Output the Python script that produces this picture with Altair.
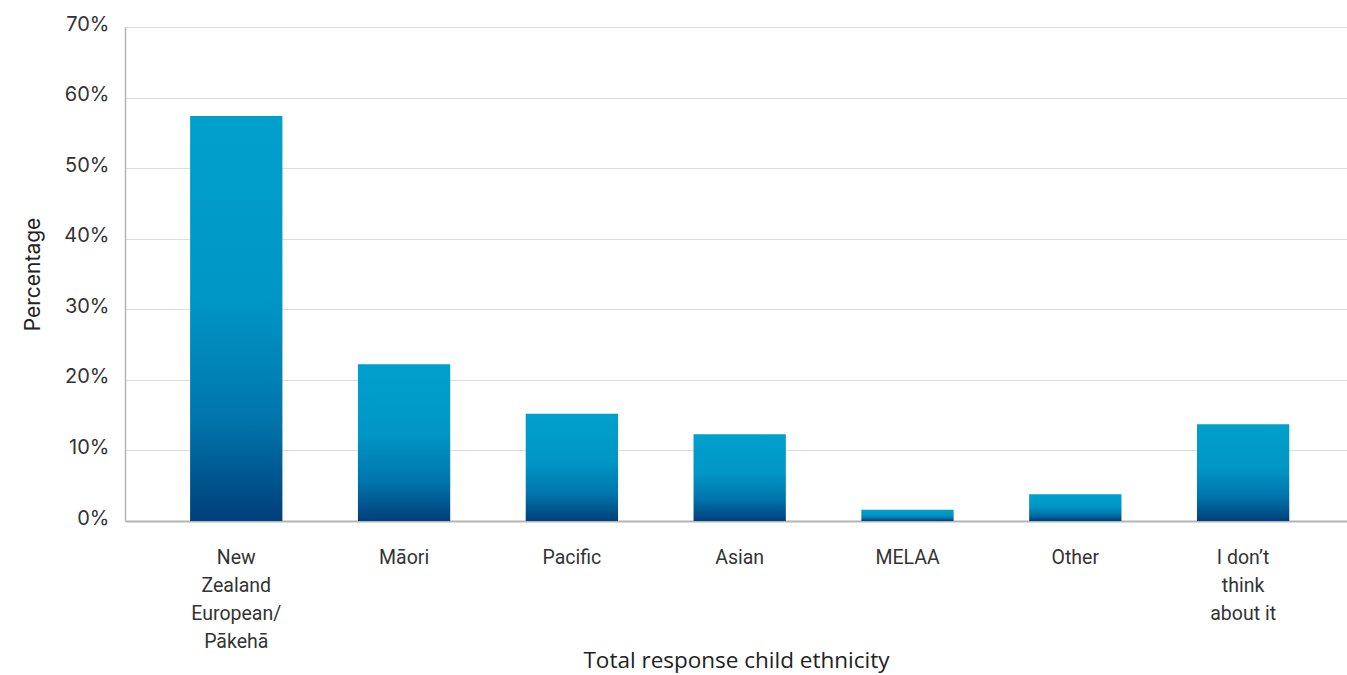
import altair as alt
import pandas as pd

categories = ["New Zealand European/Pākehā", "Māori", "Pacific", "Asian", "MELAA", "Other", "I don’t think about it"]
label_lines = [["New", "Zealand", "European/", "Pākehā"], ["Māori"], ["Pacific"], ["Asian"], ["MELAA"], ["Other"], ["I don’t", "think", "about it"]]
values = [57.4, 22.2, 15.2, 12.3, 1.6, 3.8, 13.7]

df = pd.DataFrame({"category": categories, "value": [v / 100 for v in values]})

label_expr = " : ".join(
    f"datum.label == {c!r} ? {l!r}" for c, l in zip(categories, label_lines)
) + " : datum.label"

gradient = alt.LinearGradient(
    gradient="linear", x1=0, y1=0, x2=0, y2=1,
    stops=[
        alt.GradientStop(color="#00a0cd", offset=0),
        alt.GradientStop(color="#0096c6", offset=0.45),
        alt.GradientStop(color="#0075ab", offset=0.75),
        alt.GradientStop(color="#003f7b", offset=1),
    ],
)

chart = alt.Chart(df).mark_bar(color=gradient).encode(
    x=alt.X("category:N", sort=categories, title="Total response child ethnicity",
            scale=alt.Scale(paddingInner=0.45, paddingOuter=0.366, align=0.53),
            axis=alt.Axis(labelAngle=0, labelExpr=label_expr, labelFont="Roboto",
                          labelFontSize=19.5, labelColor="#333333", labelLineHeight=28,
                          labelPadding=27, ticks=False, domainColor="#b4b4b4", domainWidth=2,
                          titleFont="Open Sans", titleFontSize=22.5, titleFontWeight="normal",
                          titleColor="#222222", titlePadding=-1, grid=False)),
    y=alt.Y("value:Q", title="Percentage",
            scale=alt.Scale(domain=[0, 0.7], nice=False),
            axis=alt.Axis(format=".0%", values=[0, 0.1, 0.2, 0.3, 0.4, 0.5, 0.6, 0.7],
                          labelFont="Inter", labelFontSize=20, labelColor="#333333",
                          labelPadding=16, labelOffset=-3, ticks=False,
                          domainColor="#b4b4b4", domainWidth=1.5,
                          gridColor="#dddddd", gridWidth=1.2,
                          titleFont="Inter", titleFontSize=21, titleFontWeight="normal",
                          titleColor="#222222", titlePadding=20)),
).properties(
    width=1222, height=494,
    autosize=alt.AutoSizeParams(type="none"),
    padding={"left": 125, "top": 27, "right": 0, "bottom": 154},
).configure_view(stroke=None)

chart.save("out.html", embed_options={"renderer": "svg", "actions": False})
